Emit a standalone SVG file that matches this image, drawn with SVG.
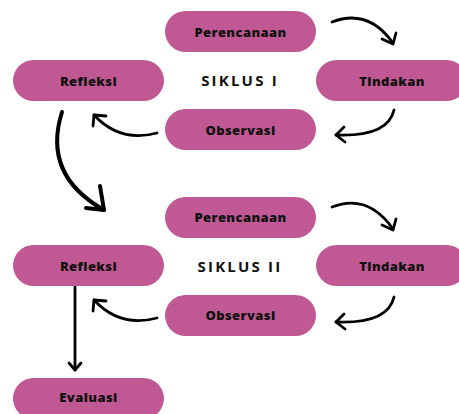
<svg xmlns="http://www.w3.org/2000/svg" width="459" height="414" viewBox="0 0 459 414">
<style>
.n rect{fill:#c05894}
.n text{font-family:"Open Sans",sans-serif;font-weight:800;font-size:13px;fill:#111;text-anchor:middle;dominant-baseline:central;letter-spacing:0.4px}
.t{font-family:"Open Sans",sans-serif;font-weight:700;font-size:15px;fill:#111;text-anchor:middle;dominant-baseline:central;letter-spacing:2.2px}
.c path{fill:none;stroke:#000;stroke-linecap:round;stroke-linejoin:round}
.s{stroke-width:2.8}
.b{stroke-width:4}
</style>
<rect width="459" height="414" fill="#fff"/>
<g class="c" id="connectors">
<path class="s" d="M332 22 Q368 8 393 43"/>
<path class="s" d="M382 39 L393 44 L396 33"/>
<path class="s" d="M394 110 Q388 137 336 135"/>
<path class="s" d="M344 127 L336 135 L345 142"/>
<path class="s" d="M157 133 Q120 143 94 115"/>
<path class="s" d="M93 126 L94 115 L106 116"/>
<path class="b" d="M62 112 Q42 175 104 210"/>
<path class="b" d="M100 186 L104 210 L86 208"/>
<path class="s" d="M332 207 Q368 193 393 229"/>
<path class="s" d="M382 225 L393 230 L396 219"/>
<path class="s" d="M394 297 Q388 324 336 322"/>
<path class="s" d="M344 314 L336 322 L345 329"/>
<path class="s" d="M157 318 Q120 328 94 300"/>
<path class="s" d="M93 311 L94 300 L106 301"/>
<path class="s" d="M75 287 L75 370"/>
<path class="s" d="M69 363 L75 370 L81 363"/>
</g>
<g class="n" id="perencanaan1"><rect x="165" y="11" width="151" height="41" rx="20.5"/><text x="240.5" y="31.5">Perencanaan</text></g>
<g class="n" id="refleksi1"><rect x="13" y="60" width="151" height="41" rx="20.5"/><text x="88.5" y="80.5">Refleksi</text></g>
<g class="n" id="tindakan1"><rect x="316" y="60" width="151" height="41" rx="20.5"/><text x="392" y="80.5">Tindakan</text></g>
<g class="n" id="observasi1"><rect x="165" y="109" width="151" height="41" rx="20.5"/><text x="240.5" y="129.5">Observasi</text></g>
<text class="t" x="240" y="80">SIKLUS I</text>
<g class="n" id="perencanaan2"><rect x="165" y="197" width="151" height="41" rx="20.5"/><text x="240.5" y="217">Perencanaan</text></g>
<g class="n" id="refleksi2"><rect x="13" y="245" width="151" height="41" rx="20.5"/><text x="88.5" y="265.5">Refleksi</text></g>
<g class="n" id="tindakan2"><rect x="316" y="245" width="151" height="41" rx="20.5"/><text x="392" y="265.5">Tindakan</text></g>
<g class="n" id="observasi2"><rect x="165" y="295" width="151" height="41" rx="20.5"/><text x="240.5" y="315">Observasi</text></g>
<text class="t" x="240" y="266">SIKLUS II</text>
<g class="n" id="evaluasi"><rect x="13" y="378" width="151" height="41" rx="20.5"/><text x="88.5" y="397">Evaluasi</text></g>
</svg>
